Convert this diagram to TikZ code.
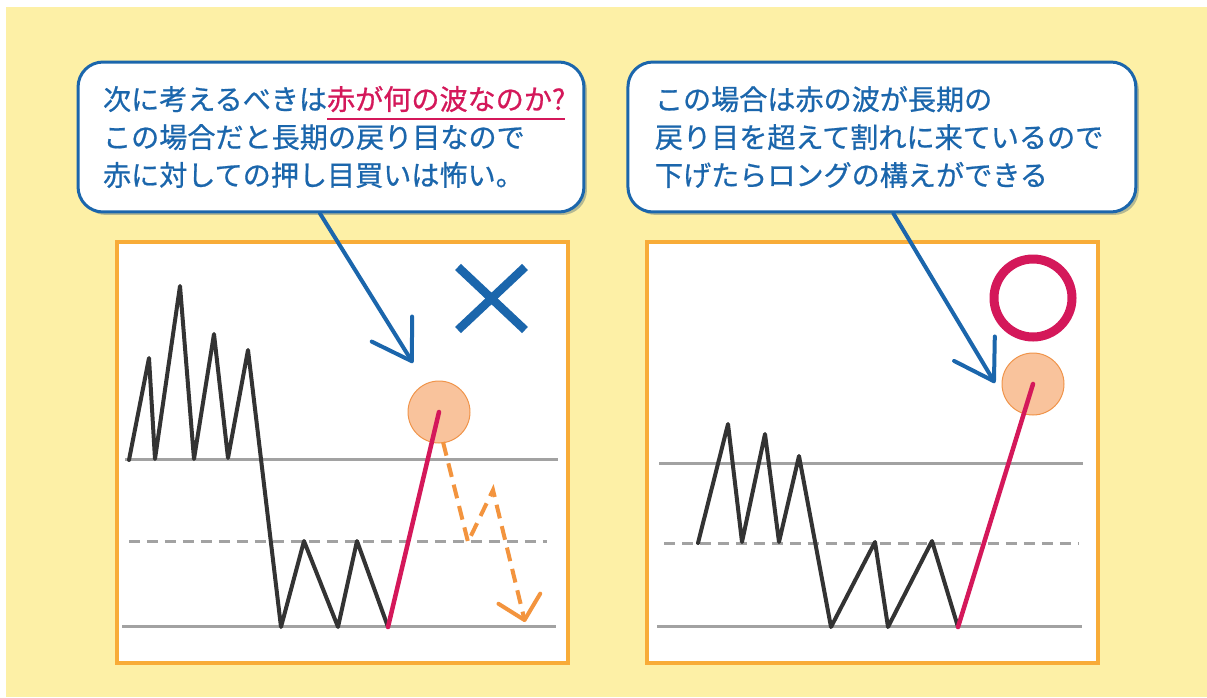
\documentclass[tikz,border=0pt]{standalone}
\usepackage{fontspec}
\newfontfamily\jpfont[FakeBold=0.7]{Noto Sans CJK JP}
\usepackage{tikz}
\usetikzlibrary{positioning,arrows.meta,shadows}

\definecolor{bgyellow}{HTML}{FDF0A6}
\definecolor{boxorange}{HTML}{F8AC38}
\definecolor{talkblue}{HTML}{1B66AC}
\definecolor{wavered}{HTML}{D4185A}
\definecolor{lvlgray}{HTML}{A2A2A2}
\definecolor{wavegray}{HTML}{333333}
\definecolor{hitfill}{HTML}{F9C39C}
\definecolor{hitline}{HTML}{F0944A}
\definecolor{planorange}{HTML}{F3943E}

\newcommand{\akaline}[1]{\setbox0\hbox{#1}\rlap{\copy0}\rule[-6pt]{\wd0}{1.3pt}}

\tikzset{
  callout/.style={draw=talkblue, line width=0.06cm, fill=white, rounded corners=0.5cm,
    align=left, inner xsep=0.5cm, inner ysep=0pt, minimum height=3cm, text=talkblue,
    font=\jpfont\fontsize{16pt}{21.6pt}\selectfont,
    drop shadow={shadow xshift=0.06cm, shadow yshift=-0.06cm, fill=talkblue!60!black, opacity=0.3}},
  chartbox/.style={draw=boxorange, line width=0.08cm, fill=white,
    minimum width=9.02cm, minimum height=8.42cm, inner sep=0pt},
  level/.style={draw=lvlgray, line width=0.06cm},
  midlevel/.style={level, dash pattern=on 0.22cm off 0.14cm},
  wave/.style={draw=wavegray, line width=0.08cm, line join=round, line cap=round},
  redwave/.style={draw=wavered, line width=0.09cm, line cap=round},
  hit/.style={circle, fill=hitfill, draw=hitline, line width=0.02cm, minimum size=1.24cm, inner sep=0pt},
  pointer/.style={draw=talkblue, line width=0.08cm, line cap=round,
    -{Straight Barb[length=0.76cm, width=0.95cm, round]}},
  plan/.style={draw=planorange, line width=0.08cm, dash pattern=on 0.28cm off 0.16cm,
    -{Straight Barb[length=0.44cm, width=0.86cm, round]}},
}

\begin{document}
\begin{tikzpicture}[x=0.02cm, y=-0.02cm]
  \useasboundingbox (0,0) rectangle (1207,697);
  \fill[bgyellow] (6,7) rectangle (1207,697);

  \node[chartbox] (boxA) at (342.5,452.5) {};
  \node[chartbox, right=1.5cm of boxA] (boxB) {};

  \node[callout, text width=9.12cm] (callA) at (331,137)
    {次に考えるべきは\textcolor{wavered}{\akaline{赤が何の波なのか?}}\\
     この場合だと長期の戻り目なので\\
     赤に対しての押し目買いは怖い。};
  \node[callout, text width=9.08cm, inner xsep=0.54cm, right=0.82cm of callA] (callB)
    {この場合は赤の波が長期の\\
     戻り目を超えて割れに来ているので\\
     下げたらロングの構えができる};

  % left chart
  \draw[level] (125,459) -- (558,459);
  \draw[midlevel] (129,541) -- (547,541);
  \draw[level] (122,626) -- (556,626);
  \draw[wave] (129,460) -- (149,358) -- (155,459) -- (180,286) -- (194,459) -- (214,334)
    -- (228,458) -- (248,350) -- (281,627) -- (304,541) -- (338,627) -- (357,541) -- (388,627);
  \coordinate (lowA) at (388,627);
  \node[hit] (topA) at (439,412) {};
  \draw[redwave] (lowA) -- (topA.center);
  \draw[plan] (443,442) -- (468,542) -- (493,490) -- (525,622);
  \draw[talkblue, line width=0.17cm] (458,267) -- (525,330) (525,267) -- (458,330);
  \coordinate (tipA) at (413,363);
  \draw[pointer] ([xshift=-0.22cm]callA.south) -- (tipA);

  % right chart
  \draw[level] (659,463) -- (1083,463);
  \draw[midlevel] (664,543) -- (1079,543);
  \draw[level] (657,626) -- (1082,626);
  \draw[wave] (698,543) -- (728,424) -- (742,542) -- (765,434) -- (779,542) -- (799,456)
    -- (831,627) -- (875,542) -- (888,627) -- (932,541) -- (958,627);
  \coordinate (lowB) at (958,627);
  \node[hit] (topB) at (1033,384) {};
  \draw[redwave] (lowB) -- (topB.center);
  \draw[wavered, line width=0.18cm] (1033,298) circle[radius=39];
  \coordinate (tipB) at (995,383);
  \draw[pointer] ([xshift=0.23cm]callB.south) -- (tipB);
\end{tikzpicture}
\end{document}
